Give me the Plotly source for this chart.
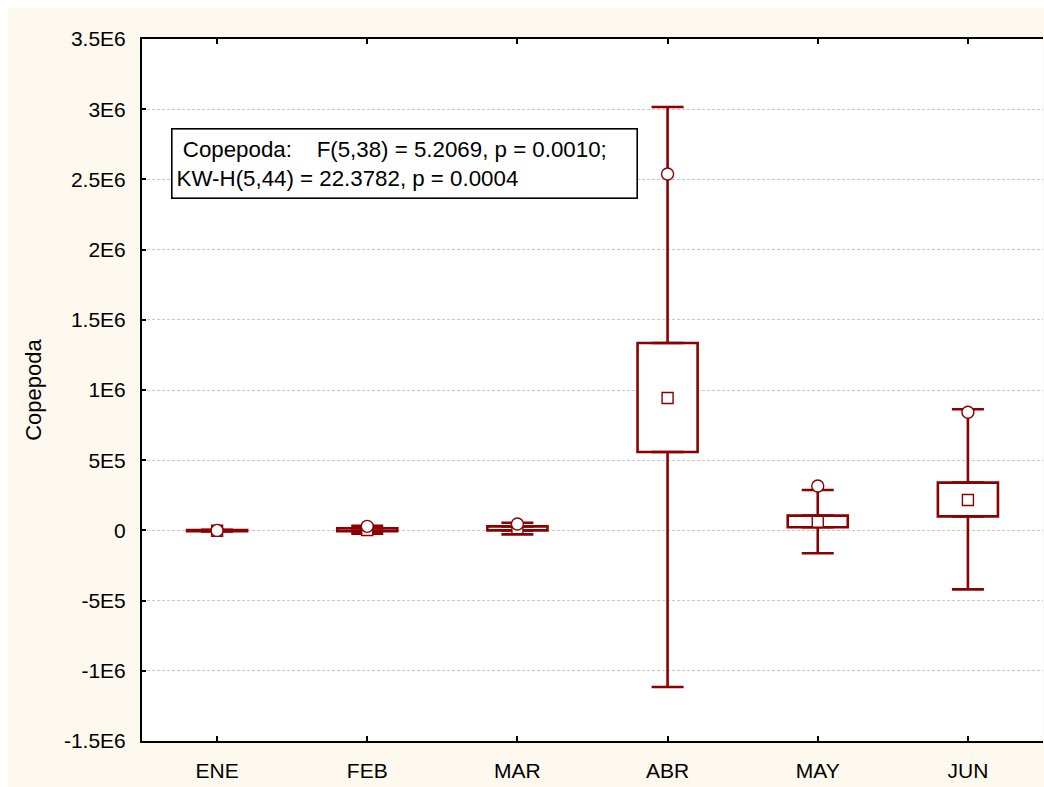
import plotly.graph_objects as go

# ---- data ----
months = ["ENE", "FEB", "MAR", "ABR", "MAY", "JUN"]
means = [-2e3, 3e3, 1.5e4, 9.43e5, 6.2e4, 2.17e5]
box_lo = [-5e3, -5e3, 0, 5.58e5, 2.2e4, 1.0e5]
box_hi = [2e3, 1.5e4, 2.9e4, 1.335e6, 1.05e5, 3.40e5]
whisk_lo = [-8e3, -2.4e4, -2.8e4, -1.115e6, -1.63e5, -4.20e5]
whisk_hi = [5e3, 3.3e4, 5.5e4, 3.016e6, 2.88e5, 8.63e5]
circles = [0, 2.9e4, 4.6e4, 2.538e6, 3.16e5, 8.41e5]

ytick_vals = [-1.5e6, -1e6, -5e5, 0, 5e5, 1e6, 1.5e6, 2e6, 2.5e6, 3e6, 3.5e6]
ytick_text = ["-1.5E6", "-1E6", "-5E5", "0", "5E5", "1E6", "1.5E6", "2E6", "2.5E6", "3E6", "3.5E6"]

stat_line1 = "\u00a0Copepoda:" + "\u00a0" * 4 + "F(5,38) = 5.2069, p = 0.0010;"
stat_line2 = "KW-H(5,44) = 22.3782, p = 0.0004"

# ---- style ----
RED = "#8B0000"
CREAM = "#FEF9EE"
FONT = "Arial, Liberation Sans, sans-serif"
W, H = 1044, 787
ML, MR, MT, MB = 142, 1, 39, 46
PW, PH = W - ML - MR, H - MT - MB
LW = 2.6

box_h = [h - l for h, l in zip(box_hi, box_lo)]
up_err = [wh - h for wh, h in zip(whisk_hi, box_hi)]
down_err = [l - wl for l, wl in zip(box_lo, whisk_lo)]
zeros = [0] * len(months)

fig = go.Figure()

# box (white fill, red outline) + upper whisker
fig.add_trace(go.Bar(
    x=months, y=box_h, base=box_lo, width=0.4,
    marker=dict(color="white", line=dict(color=RED, width=LW)),
    error_y=dict(type="data", symmetric=False, array=up_err, arrayminus=zeros,
                 color=RED, thickness=LW, width=16),
    showlegend=False, hoverinfo="skip",
))
# lower whisker (invisible bar ending at box bottom)
fig.add_trace(go.Bar(
    x=months, y=[-v for v in box_h], base=box_hi, width=0.4,
    marker=dict(color="rgba(0,0,0,0)", line=dict(width=0)),
    error_y=dict(type="data", symmetric=False, array=zeros, arrayminus=down_err,
                 color=RED, thickness=LW, width=16),
    showlegend=False, hoverinfo="skip",
))

fig.add_trace(go.Scatter(
    x=months, y=means, mode="markers", showlegend=False,
    marker=dict(symbol="square", size=11, color="white",
                line=dict(color=RED, width=1.4)),
))

fig.add_trace(go.Scatter(
    x=months, y=circles, mode="markers", showlegend=False,
    marker=dict(symbol="circle", size=12, color="white",
                line=dict(color=RED, width=1.4)),
))

fig.add_annotation(
    xref="paper", yref="paper",
    x=(171 - ML) / PW, y=(H - MB - 128) / PH,
    xanchor="left", yanchor="top", align="left",
    text=stat_line1 + "<br>" + stat_line2,
    showarrow=False,
    font=dict(family=FONT, size=22.3, color="black"),
    bordercolor="black", borderwidth=1.6, borderpad=4,
    bgcolor="white", width=456, height=60,
)

# white strips at the top and left edge of the page
fig.add_shape(type="rect", xref="paper", yref="paper", layer="below",
              x0=-ML / PW, x1=(8 - ML) / PW, y0=-MB / PH - 0.01, y1=(PH + MT) / PH + 0.01,
              fillcolor="white", line=dict(width=0))
fig.add_shape(type="rect", xref="paper", yref="paper", layer="below",
              x0=-ML / PW - 0.01, x1=1.01, y0=(PH + MT - 8) / PH, y1=(PH + MT) / PH + 0.01,
              fillcolor="white", line=dict(width=0))

fig.update_layout(
    width=W, height=H,
    margin=dict(l=ML, r=MR, t=MT, b=MB),
    paper_bgcolor=CREAM, plot_bgcolor="white",
    font=dict(family=FONT, size=21, color="black"),
    showlegend=False, barmode="overlay",
)

fig.update_xaxes(
    type="category", categoryorder="array", categoryarray=months,
    range=[-0.5, 5.5],
    showline=True, linecolor="black", linewidth=2, mirror="ticks",
    ticks="inside", ticklen=5, tickwidth=2, tickcolor="black",
    showgrid=False, zeroline=False,
    ticklabelstandoff=10,
    tickfont=dict(family=FONT, size=21),
)

fig.update_yaxes(
    range=[-1.5e6, 3.5e6],
    tickvals=ytick_vals, ticktext=ytick_text,
    showline=True, linecolor="black", linewidth=2,
    ticks="inside", ticklen=4, tickwidth=2, tickcolor="black",
    showgrid=True, gridcolor="#C8C8C8", gridwidth=1, griddash="3px,2px",
    zeroline=False,
    ticklabelstandoff=10,
    tickfont=dict(family=FONT, size=21),
    title=dict(text="Copepoda", font=dict(family=FONT, size=22), standoff=16),
)

fig.write_html("out.html")
